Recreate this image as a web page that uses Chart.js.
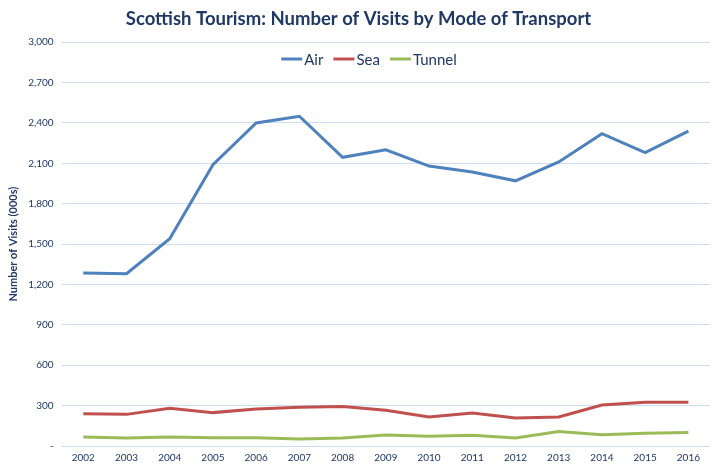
<!DOCTYPE html>
<html>
<head>
<meta charset="utf-8">
<script src="https://cdn.jsdelivr.net/npm/chart.js@4.4.0/dist/chart.umd.min.js"></script>
<style>
  html, body { margin: 0; padding: 0; background: #fff; }
  #wrap { width: 719px; height: 468px; }
</style>
</head>
<body>
<div id="wrap"><canvas id="visitsChart"></canvas></div>
<script>
const years = ['2002', '2003', '2004', '2005', '2006', '2007', '2008', '2009', '2010', '2011', '2012', '2013', '2014', '2015', '2016'];
const airVisits = [1285, 1280, 1540, 2090, 2400, 2450, 2145, 2200, 2080, 2035, 1970, 2110, 2320, 2180, 2340];
const seaVisits = [240, 235, 280, 248, 275, 288, 293, 265, 215, 245, 208, 215, 305, 325, 325];
const tunnelVisits = [67, 60, 66, 62, 62, 52, 60, 82, 72, 80, 60, 108, 84, 94, 100];
const yTicks = [0, 300, 600, 900, 1200, 1500, 1800, 2100, 2400, 2700, 3000];

const navy = '#1f3864';
const fontFamily = 'Lato, "Open Sans", sans-serif';

// legend drawn over the plot, like the Excel original
const overlayLegend = {
    id: 'overlayLegend',
    afterDraw(chart) {
        const c = chart.ctx;
        const sets = chart.data.datasets;
        c.save();
        c.font = '15px ' + fontFamily;
        c.textBaseline = 'middle';
        const lineW = 21, gap = 2, itemGap = 10;
        let total = 0;
        sets.forEach((ds, i) => {
            total += lineW + gap + c.measureText(ds.label).width;
            if (i < sets.length - 1) total += itemGap;
        });
        let x = 369 - total / 2;
        const y = 59;
        sets.forEach(ds => {
            c.strokeStyle = ds.borderColor;
            c.lineWidth = 3;
            c.beginPath();
            c.moveTo(x, y);
            c.lineTo(x + lineW, y);
            c.stroke();
            x += lineW + gap;
            c.fillStyle = navy;
            c.fillText(ds.label, x, y + 1);
            x += c.measureText(ds.label).width + itemGap;
        });
        c.restore();
    }
};

const ctx = document.getElementById('visitsChart').getContext('2d');
new Chart(ctx, {
    type: 'line',
    data: {
        labels: years,
        datasets: [
            { label: 'Air', data: airVisits, borderColor: '#4f81bd', borderWidth: 3, pointRadius: 0, tension: 0 },
            { label: 'Sea', data: seaVisits, borderColor: '#c0504d', borderWidth: 3, pointRadius: 0, tension: 0 },
            { label: 'Tunnel', data: tunnelVisits, borderColor: '#9bbb59', borderWidth: 3, pointRadius: 0, tension: 0 }
        ]
    },
    options: {
        responsive: true,
        maintainAspectRatio: false,
        animation: false,
        layout: { padding: { top: 6, right: 9, bottom: 6, left: 7 } },
        plugins: {
            legend: { display: false },
            tooltip: { enabled: false },
            title: {
                display: true,
                text: 'Scottish Tourism: Number of Visits by Mode of Transport',
                color: navy,
                font: { family: fontFamily, size: 18.5, weight: 'bold' },
                padding: { top: 2, bottom: 12 }
            }
        },
        scales: {
            x: {
                offset: true,
                grid: { display: false },
                border: { display: false },
                ticks: { color: navy, font: { family: fontFamily, size: 10 }, padding: -2, maxRotation: 0 }
            },
            y: {
                min: 0,
                max: 3000,
                afterBuildTicks: axis => { axis.ticks = yTicks.map(v => ({ value: v })); },
                grid: { color: '#cddcee', lineWidth: 1, drawTicks: false },
                border: { display: false },
                ticks: {
                    color: navy,
                    font: { family: fontFamily, size: 10 },
                    padding: 8,
                    callback: v => v === 0 ? '-' : v.toLocaleString('en-US')
                },
                title: {
                    display: true,
                    text: 'Number of Visits (000s)',
                    color: navy,
                    font: { family: fontFamily, size: 11, weight: 'bold' },
                    padding: { top: 0, bottom: 0 }
                }
            }
        }
    },
    plugins: [overlayLegend]
});
</script>
</body>
</html>
